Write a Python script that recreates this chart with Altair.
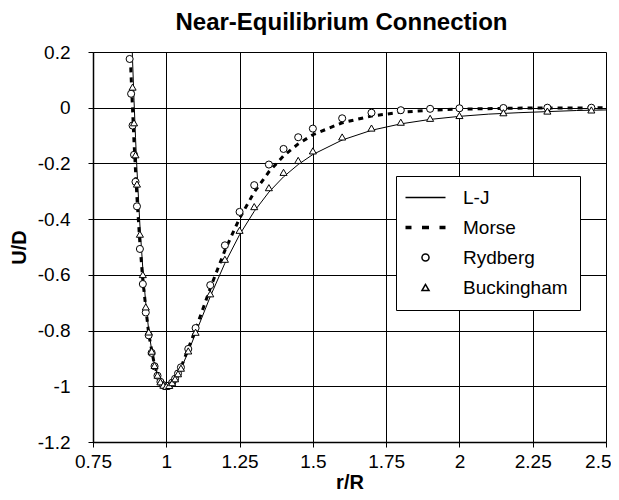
import altair as alt
import pandas as pd

# ---- data ----
x_ticks = [0.75, 1.0, 1.25, 1.5, 1.75, 2.0, 2.25, 2.5]
y_ticks = [-1.2, -1.0, -0.8, -0.6, -0.4, -0.2, 0.0, 0.2]

lj_x = [0.88, 0.885, 0.89, 0.895, 0.9, 0.91, 0.92, 0.93, 0.94, 0.95, 0.96, 0.97, 0.98, 0.99,
        1.0, 1.02, 1.04, 1.06, 1.08, 1.1, 1.15, 1.2, 1.25, 1.3, 1.35, 1.4, 1.45, 1.5, 1.6,
        1.7, 1.8, 1.9, 2.0, 2.1, 2.2, 2.3, 2.4, 2.5]
lj_u = [0.330, 0.169, 0.025, -0.106, -0.223, -0.421, -0.579, -0.702, -0.798, -0.870, -0.923,
        -0.960, -0.983, -0.996, -1.0, -0.988, -0.956, -0.913, -0.863, -0.810, -0.678, -0.558,
        -0.456, -0.372, -0.303, -0.248, -0.204, -0.168, -0.116, -0.081, -0.058, -0.042,
        -0.031, -0.023, -0.018, -0.014, -0.010, -0.008]

morse_x = [0.87, 0.88, 0.89, 0.9, 0.91, 0.92, 0.94, 0.96, 0.98, 1.0, 1.02, 1.05, 1.1, 1.15,
           1.2, 1.25, 1.3, 1.35, 1.4, 1.45, 1.5, 1.6, 1.7, 1.8, 1.9, 2.0, 2.2, 2.5]
morse_u = [0.396, 0.112, -0.126, -0.324, -0.487, -0.620, -0.812, -0.926, -0.984, -1.0, -0.987,
           -0.933, -0.796, -0.648, -0.512, -0.397, -0.303, -0.230, -0.173, -0.130, -0.097,
           -0.054, -0.030, -0.016, -0.009, -0.005, -0.0015, -0.0003]

ryd_x = [0.875, 0.88, 0.885, 0.89, 0.895, 0.9, 0.91, 0.92, 0.93, 0.94, 0.95, 0.96, 0.97, 0.98,
         0.99, 1.0, 1.01, 1.02, 1.03, 1.04, 1.05, 1.075, 1.1, 1.15, 1.2, 1.25, 1.3, 1.35, 1.4,
         1.45, 1.5, 1.6, 1.7, 1.8, 1.9, 2.0, 2.15, 2.3, 2.45]
ryd_u = [0.175, 0.050, -0.064, -0.169, -0.266, -0.354, -0.507, -0.633, -0.735, -0.817, -0.880,
         -0.928, -0.962, -0.984, -0.996, -1.0, -0.997, -0.987, -0.973, -0.954, -0.932, -0.866,
         -0.791, -0.637, -0.494, -0.374, -0.278, -0.204, -0.148, -0.106, -0.075, -0.038,
         -0.018, -0.009, -0.004, -0.002, -0.001, 0.0, 0.0]

buck_x = [0.885, 0.89, 0.895, 0.9, 0.91, 0.92, 0.93, 0.94, 0.95, 0.96, 0.97, 0.98, 0.99, 1.0,
          1.01, 1.02, 1.03, 1.04, 1.05, 1.075, 1.1, 1.15, 1.2, 1.25, 1.3, 1.35, 1.4, 1.45,
          1.5, 1.6, 1.7, 1.8, 1.9, 2.0, 2.15, 2.3, 2.45]
buck_u = [0.074, -0.054, -0.169, -0.274, -0.454, -0.599, -0.715, -0.805, -0.874, -0.925,
          -0.960, -0.984, -0.996, -1.0, -0.997, -0.987, -0.973, -0.955, -0.935, -0.873,
          -0.806, -0.668, -0.544, -0.440, -0.355, -0.287, -0.232, -0.189, -0.155, -0.105,
          -0.073, -0.052, -0.038, -0.028, -0.018, -0.012, -0.008]

series_order = ["L-J", "Morse", "Rydberg", "Buckingham"]

# ---- symbol glyphs (custom paths are in units of sqrt(size)/2 px) ----
SYM_SIZE = 50
line_path = "M-5.657,0H5.657"
dash_path = "".join(
    f"M-5.657,{y}H-3.96M-0.99,{y}H0.99M3.96,{y}H5.657" for y in (-0.283, 0, 0.283)
)
shape_range = [line_path, dash_path, "circle", "triangle-up"]

lj_df = pd.DataFrame({"r": lj_x, "u": lj_u, "series": "L-J"})
morse_df = pd.DataFrame({"r": morse_x, "u": morse_u, "series": "Morse"})
pts_df = pd.concat([
    pd.DataFrame({"r": ryd_x, "u": ryd_u, "series": "Rydberg"}),
    pd.DataFrame({"r": buck_x, "u": buck_u, "series": "Buckingham"}),
])

FONT = "Liberation Sans"

xscale = alt.Scale(domain=[0.75, 2.5], nice=False, zero=False)
yscale = alt.Scale(domain=[-1.2, 0.2], nice=False, zero=False)

last_x = x_ticks[-1]
xax = alt.Axis(values=x_ticks, labelExpr="'' + datum.value", title="r/R",
               grid=True, gridColor="#000", gridWidth=1, gridOpacity=1,
               domainColor="#000", domainWidth=1.5, tickColor="#000", tickSize=5,
               labelFont=FONT, labelFontSize=19, labelColor="#000", labelPadding=5,
               labelFlush=False, labelOverlap=False,
               labelAlign={"condition": {"test": f"datum.value >= {last_x}", "value": "right"},
                           "value": "center"},
               labelOffset={"condition": {"test": f"datum.value >= {last_x}", "value": 5},
                            "value": 0},
               titleFont=FONT, titleFontSize=20, titleFontWeight="bold", titleColor="#000",
               titlePadding=1)
yax = alt.Axis(values=y_ticks, labelExpr="'' + datum.value", title="U/D",
               grid=True, gridColor="#000", gridWidth=1, gridOpacity=1,
               domainColor="#000", domainWidth=1.5, tickColor="#000", tickSize=5,
               labelFont=FONT, labelFontSize=19, labelColor="#000", labelPadding=18,
               labelFlush=False, labelOverlap=False,
               titleFont=FONT, titleFontSize=20, titleFontWeight="bold", titleColor="#000",
               titlePadding=8)

lj = alt.Chart(lj_df).mark_line(color="black", strokeWidth=1, clip=True).encode(
    x=alt.X("r:Q", scale=xscale, axis=xax),
    y=alt.Y("u:Q", scale=yscale, axis=yax),
)
morse = alt.Chart(morse_df).mark_line(color="black", strokeWidth=3, strokeDash=[5, 5],
                                      clip=True).encode(
    x=alt.X("r:Q", scale=xscale),
    y=alt.Y("u:Q", scale=yscale),
)
pts = alt.Chart(pts_df).mark_point(fill="white", stroke="black", strokeWidth=1,
                                   opacity=1, size=SYM_SIZE).encode(
    x=alt.X("r:Q", scale=xscale),
    y=alt.Y("u:Q", scale=yscale),
    shape=alt.Shape("series:N",
                    scale=alt.Scale(domain=series_order, range=shape_range),
                    legend=alt.Legend(title=None, orient="none", legendX=303, legendY=124,
                                      strokeColor="black", fillColor="white", padding=12,
                                      labelFont=FONT, labelFontSize=19, labelColor="#000",
                                      labelOffset=28, rowPadding=10, symbolOffset=8,
                                      symbolSize=SYM_SIZE)),
)

chart = alt.layer(lj, morse, pts).properties(
    width=513, height=390,
    title=alt.TitleParams("Near-Equilibrium Connection", font=FONT, fontSize=24,
                          fontWeight="bold", color="#000", anchor="middle", dx=-8,
                          offset=8),
    autosize=alt.AutoSizeParams(type="none"),
    padding={"left": 85, "top": 44, "right": 5, "bottom": 50},
).configure_view(stroke="black", strokeWidth=1).configure(background="white")

chart.save("out.html", embed_options={"renderer": "svg", "actions": False})
